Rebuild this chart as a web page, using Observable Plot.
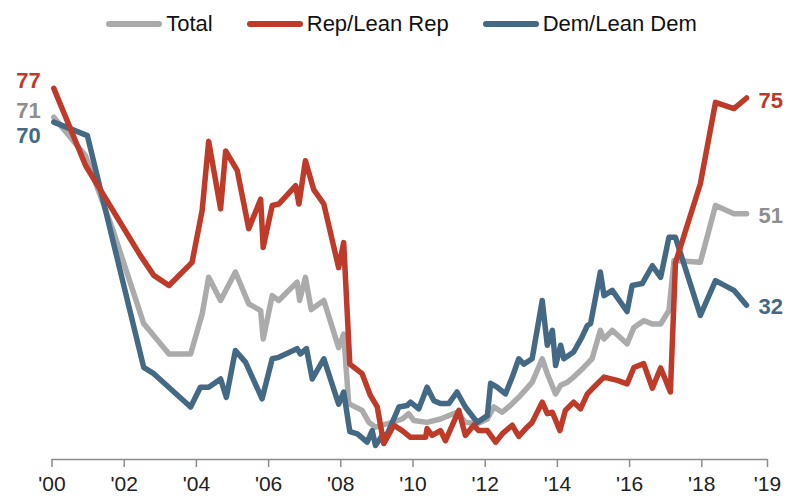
<!DOCTYPE html>
<html>
<head>
<meta charset="utf-8">
<script src="https://cdn.jsdelivr.net/npm/d3@7"></script>
<script src="https://cdn.jsdelivr.net/npm/@observablehq/plot@0.6"></script>
<style>
  html, body { margin: 0; padding: 0; background: #fff; overflow: hidden; }
  body { font-family: "Liberation Sans", Arial, sans-serif; width: 797px; }
  #legend { height: 45px; display: flex; align-items: center; justify-content: center;
            padding-left: 6px; padding-top: 2px; box-sizing: border-box; font-size: 22px; color: #111; }
  .item { display: flex; align-items: center; margin: 0 17px; }
  .item svg { margin-right: 4px; }
</style>
</head>
<body>
<div id="legend"></div>
<div id="chart"></div>
<script>
// Series names and colours
const seriesNames = ["Total", "Rep/Lean Rep", "Dem/Lean Dem"];
const seriesColors = ["#ABABAB", "#BE3A29", "#446985"];
const labelColors = ["#8E8E8E", "#BE3A29", "#446985"];

// Tick values (decimal year) and their labels
const tickYears = [2000, 2002, 2004, 2006, 2008, 2010, 2012, 2014, 2016, 2018, 2019.82];
const tickLabels = ["'00", "'02", "'04", "'06", "'08", "'10", "'12", "'14", "'16", "'18", "'19"];

// [decimal year, percent]
const total = [
  [2000.05,71],[2000.93,63],[2001.67,48],[2002.54,28.2],[2003.24,21.9],[2003.84,21.9],
  [2004.16,30.2],[2004.34,37.8],[2004.67,33],[2005.08,38.9],[2005.45,32.3],[2005.78,30.9],
  [2005.85,25],[2006.10,34],[2006.28,33],[2006.79,36.8],[2006.86,33],[2007.02,37.8],
  [2007.18,31.1],[2007.53,33],[2007.94,23.2],[2008.08,26],[2008.22,11.6],[2008.59,10.2],
  [2008.78,7.7],[2008.96,6.7],[2009.42,7.7],[2009.70,8.4],[2009.88,9.5],[2010.02,8.1],
  [2010.39,7.7],[2010.76,8.4],[2011.22,9.8],[2011.45,7.7],[2011.78,7.4],[2012.06,8.4],
  [2012.24,10.9],[2012.47,9.8],[2012.75,11.6],[2012.93,12.9],[2013.30,16],[2013.58,20.9],
  [2013.72,17.8],[2013.95,13.6],[2014.09,15.4],[2014.27,16],[2014.45,17.1],[2014.73,19.1],
  [2014.96,20.9],[2015.19,26.8],[2015.29,25],[2015.52,26.8],[2015.93,24],[2016.12,27.4],
  [2016.39,28.8],[2016.63,28.1],[2016.86,28.1],[2017.09,30.9],[2017.23,41.3],[2017.96,40.9],
  [2018.38,52.7],[2018.89,51],[2019.24,51]
];
const rep = [
  [2000.05,77],[2000.93,61],[2002.45,42.3],[2002.82,38.2],[2003.24,36.1],[2003.88,40.9],
  [2004.16,51.7],[2004.34,66],[2004.67,52],[2004.81,64],[2005.13,60],[2005.45,47.9],
  [2005.78,54],[2005.85,44],[2006.10,52.7],[2006.28,53],[2006.75,56.8],[2006.84,53],
  [2007.02,62],[2007.25,56],[2007.53,53],[2007.94,39.8],[2008.08,45],[2008.25,19.8],
  [2008.59,17.8],[2008.82,13.3],[2009.01,10.9],[2009.19,3.3],[2009.47,7.1],[2009.70,6],
  [2009.93,4.6],[2010.35,4.6],[2010.39,6.4],[2010.53,5],[2010.76,6],[2010.90,3.9],
  [2011.27,10.2],[2011.45,5],[2011.68,7.1],[2011.82,6],[2012.06,6],[2012.29,3.6],
  [2012.47,5.3],[2012.75,7.1],[2012.93,4.8],[2013.16,6.7],[2013.30,7.7],[2013.58,11.9],
  [2013.72,9.5],[2013.86,9.8],[2014.07,6],[2014.22,10.2],[2014.45,11.9],[2014.64,10.5],
  [2014.83,13.6],[2015.01,15],[2015.29,17.1],[2015.66,16.4],[2015.93,15.7],[2016.12,19.1],
  [2016.39,19.9],[2016.63,14.8],[2016.86,19],[2017.13,14],[2017.27,40.8],[2017.96,57.2],
  [2018.38,74.1],[2018.89,72.8],[2019.24,75]
];
const dem = [
  [2000.05,70],[2000.98,67.2],[2002.54,19.1],[2002.82,17.8],[2003.84,10.9],[2004.11,15],
  [2004.34,15],[2004.67,16.7],[2004.83,12.9],[2005.08,22.6],[2005.36,20.2],[2005.82,12.6],
  [2006.10,20.9],[2006.28,21.2],[2006.79,23],[2006.88,21.9],[2007.05,23],[2007.21,16.7],
  [2007.53,20.9],[2007.94,11.5],[2008.08,14],[2008.25,5.8],[2008.46,5.3],[2008.73,3.6],
  [2008.87,6],[2008.96,2.9],[2009.15,5],[2009.29,5.3],[2009.61,10.9],[2009.84,11.2],
  [2009.93,11.9],[2010.16,10.5],[2010.39,15],[2010.58,12.2],[2010.76,11.6],[2010.99,11.6],
  [2011.22,14],[2011.45,10.9],[2011.78,7.7],[2012.06,9.1],[2012.15,15.8],[2012.33,15],
  [2012.56,13.6],[2012.75,17.1],[2012.93,20.9],[2013.07,19.8],[2013.30,20.9],[2013.58,33],
  [2013.72,23.7],[2013.86,26.8],[2013.95,19.5],[2014.09,23.7],[2014.18,20.9],[2014.45,22.3],
  [2014.68,25.4],[2014.83,27.8],[2014.92,28.2],[2015.19,38.9],[2015.29,34],[2015.52,35.1],
  [2015.93,30.7],[2016.07,36.1],[2016.35,36.5],[2016.63,40.2],[2016.86,37.8],[2017.09,46.1],
  [2017.27,46.1],[2017.96,29.9],[2018.38,37.1],[2018.89,35.1],[2019.24,32]
];

// ---- Legend (HTML, above the SVG) ----
const legend = document.getElementById("legend");
seriesNames.forEach((name, i) => {
  const item = document.createElement("div");
  item.className = "item";
  item.innerHTML = `<svg width="56" height="12"><line x1="3" y1="6" x2="53" y2="6" stroke="${seriesColors[i]}" stroke-width="6" stroke-linecap="round"/></svg><span>${name}</span>`;
  legend.appendChild(item);
});

// ---- Chart ----
const tickLabelMap = new Map(tickYears.map((t, i) => [t, tickLabels[i]]));
const X = d => d[0], Y = d => d[1];
const first = a => [a[0]];
const last = a => [a[a.length - 1]];
const lineOpts = {x: X, y: Y, strokeWidth: 5.5, strokeLinejoin: "round", strokeLinecap: "round"};
const labelFont = {fontSize: 22, fontWeight: "bold"};
const valueText = d => String(Math.round(d[1]));

const chart = Plot.plot({
  width: 797,
  height: 455,
  marginLeft: 51.5,
  marginRight: 30,
  marginTop: 28.4,
  marginBottom: 41,
  style: {fontFamily: "'Liberation Sans', Arial, sans-serif", background: "#fff", color: "#222"},
  x: {domain: [2000, 2019.82]},
  y: {domain: [0, 80], axis: null},
  marks: [
    Plot.ruleY([0], {stroke: "#8c8c8c", strokeWidth: 1.5}),
    Plot.axisX({ticks: tickYears, tickFormat: d => tickLabelMap.get(d), tickSize: 8,
                tickPadding: 9, fontSize: 21, stroke: "#8c8c8c", strokeWidth: 1.5, fill: "#222"}),
    Plot.line(total, {...lineOpts, stroke: seriesColors[0]}),
    Plot.line(dem, {...lineOpts, stroke: seriesColors[2]}),
    Plot.line(rep, {...lineOpts, stroke: seriesColors[1]}),
    // start labels
    Plot.text(first(rep), {x: X, y: Y, text: valueText, textAnchor: "end", dx: -13, dy: -7, fill: labelColors[1], ...labelFont}),
    Plot.text(first(total), {x: X, y: Y, text: valueText, textAnchor: "end", dx: -13, dy: -6, fill: labelColors[0], ...labelFont}),
    Plot.text(first(dem), {x: X, y: Y, text: valueText, textAnchor: "end", dx: -13, dy: 14, fill: labelColors[2], ...labelFont}),
    // end labels
    Plot.text(last(rep), {x: X, y: Y, text: valueText, textAnchor: "start", dx: 12, dy: 3, fill: labelColors[1], ...labelFont}),
    Plot.text(last(total), {x: X, y: Y, text: valueText, textAnchor: "start", dx: 12, dy: 2, fill: labelColors[0], ...labelFont}),
    Plot.text(last(dem), {x: X, y: Y, text: valueText, textAnchor: "start", dx: 12, dy: 1.5, fill: labelColors[2], ...labelFont})
  ]
});
document.getElementById("chart").appendChild(chart);
</script>
</body>
</html>
